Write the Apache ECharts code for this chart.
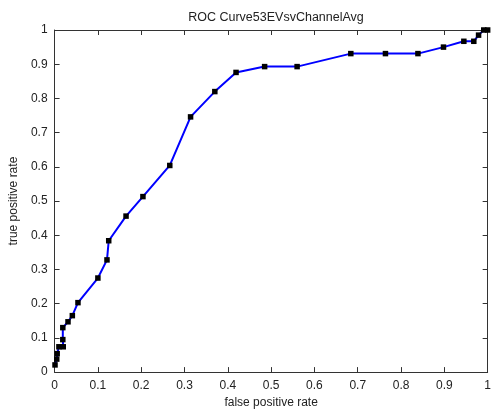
<!DOCTYPE html>
<html>
<head>
<meta charset="utf-8">
<script src="https://cdn.jsdelivr.net/npm/echarts@6/dist/echarts.min.js"></script>
<style>
html,body{margin:0;padding:0;background:#fff;}
#chart{width:494px;height:414px;}
</style>
</head>
<body>
<div id="chart"></div>
<script>
const titleText = 'ROC Curve53EVsvChannelAvg';
const xName = 'false positive rate';
const yName = 'true positive rate';
const fpr = [0.001, 0.005, 0.006, 0.010, 0.020, 0.019, 0.019, 0.031, 0.041, 0.054, 0.100, 0.121, 0.125, 0.165, 0.204, 0.266, 0.314, 0.370, 0.419, 0.485, 0.560, 0.684, 0.764, 0.839, 0.898, 0.945, 0.968, 0.979, 0.991, 1.0];
const tpr = [0.021, 0.038, 0.054, 0.074, 0.074, 0.095, 0.130, 0.147, 0.165, 0.203, 0.275, 0.328, 0.384, 0.456, 0.513, 0.604, 0.746, 0.820, 0.876, 0.893, 0.893, 0.931, 0.931, 0.931, 0.950, 0.967, 0.967, 0.985, 1.0, 1.0];
const tickLabels = ['0','0.1','0.2','0.3','0.4','0.5','0.6','0.7','0.8','0.9','1'];

const points = fpr.map((x, i) => [x, tpr[i]]);
const font = 'Liberation Sans, Arial, sans-serif';
const lineCol = '#333';
function fmt(v){ const i = Math.round(v*10); return tickLabels[i] !== undefined ? tickLabels[i] : ''; }

const baseAxis = {
  type: 'value', min: 0, max: 1, interval: 0.1,
  axisLine: { show: true, onZero: false, lineStyle: { color: lineCol, width: 1 } },
  axisTick: { show: true, inside: true, length: 5, lineStyle: { color: lineCol } },
  splitLine: { show: false }
};

const chart = echarts.init(document.getElementById('chart'), null, { renderer: 'canvas' });
chart.setOption({
  animation: false,
  backgroundColor: '#fff',
  title: {
    text: titleText, left: 271, top: 6, textAlign: 'center',
    textStyle: { fontFamily: font, fontSize: 12.5, fontWeight: 'normal', color: '#222' }
  },
  grid: { left: 53, right: 4, top: 30, bottom: 40 },
  xAxis: [
    Object.assign({}, baseAxis, {
      position: 'bottom',
      name: xName, nameLocation: 'middle', nameGap: 24,
      nameTextStyle: { fontFamily: font, fontSize: 12, color: '#222' },
      axisLabel: { show: true, fontFamily: font, fontSize: 12, color: '#222', margin: 8, formatter: fmt }
    }),
    Object.assign({}, baseAxis, { position: 'top', axisLabel: { show: false } })
  ],
  yAxis: [
    Object.assign({}, baseAxis, {
      position: 'left',
      name: yName, nameLocation: 'middle', nameGap: 27,
      nameTextStyle: { fontFamily: font, fontSize: 12, color: '#222' },
      axisLabel: { show: true, fontFamily: font, fontSize: 12, color: '#222', margin: 7, formatter: fmt }
    }),
    Object.assign({}, baseAxis, { position: 'right', axisLabel: { show: false } })
  ],
  series: [{
    type: 'line',
    xAxisIndex: 0, yAxisIndex: 0,
    data: points,
    symbol: 'rect', symbolSize: 5.5,
    itemStyle: { color: '#000' },
    lineStyle: { color: '#0000ff', width: 2 },
    z: 3
  }]
});
</script>
</body>
</html>
